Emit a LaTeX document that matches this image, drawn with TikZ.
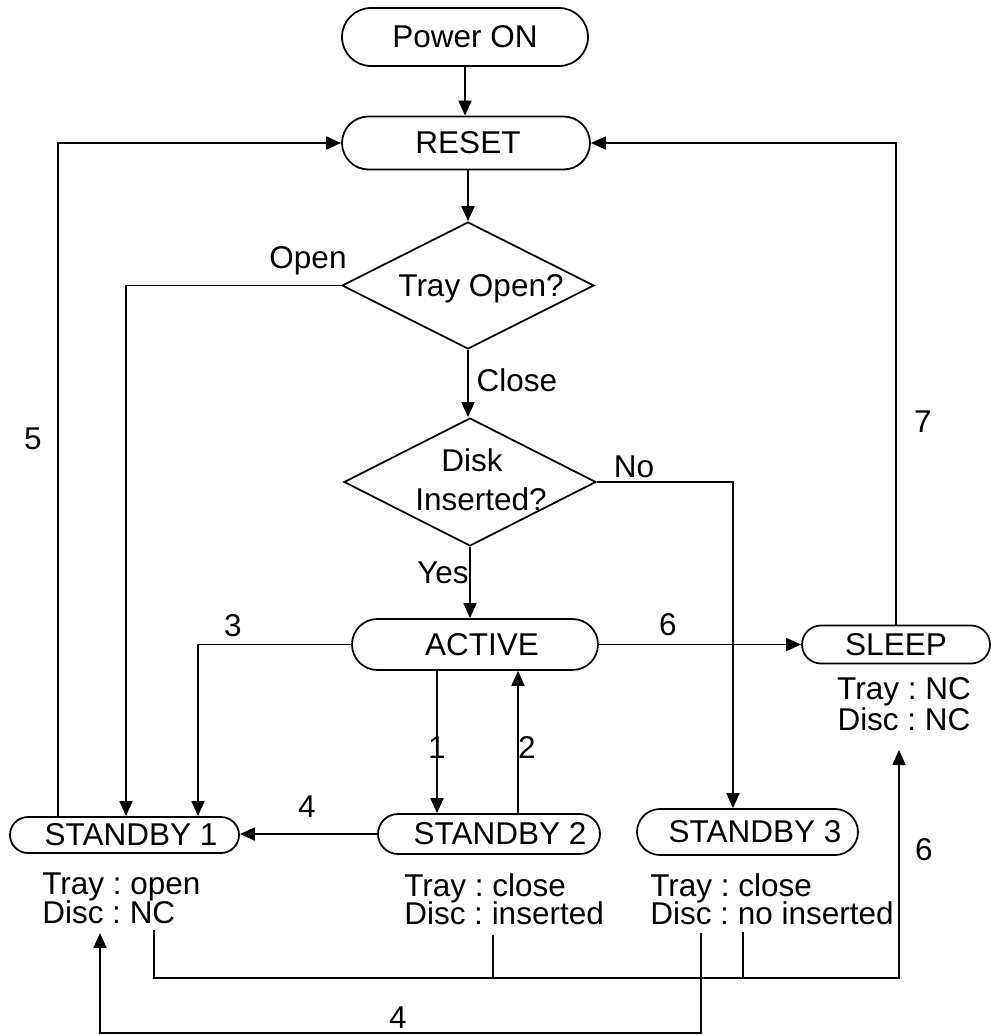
\documentclass[tikz,border=0pt]{standalone}
\usepackage{fontspec}
\setmainfont{Liberation Sans}
\usetikzlibrary{arrows.meta,shapes.geometric,shapes.misc}
\newcommand{\pxu}{0.025cm}
\newcommand{\tightlines}{\lineskiplimit=-100pt\relax}
\frenchspacing
\begin{document}
\begin{tikzpicture}[x=0.025cm,y=-0.025cm,
  font=\fontsize{22.4}{26}\selectfont\frenchspacing,
  every node/.style={inner sep=0pt},
  line/.style={line width=1.25pt},
  arr/.style={line width=1.25pt,-{Triangle[length=15*\pxu,width=13*\pxu]}},
  term/.style={rounded rectangle, draw, line width=1.25pt},
  dec/.style={diamond, draw, line width=1.25pt},
  lbl/.style={anchor=base},
  info/.style={align=left, anchor=north west,
    font=\fontsize{22.4}{20.3}\selectfont\frenchspacing\tightlines},
  infoc/.style={align=center, anchor=north,
    font=\fontsize{22.4}{22}\selectfont\frenchspacing\tightlines},
]
\useasboundingbox (0,0) rectangle (991,1035);

% terminals / states
\node[term, minimum width=246*\pxu, minimum height=58*\pxu] (pwr) at (465,37) {Power ON};
\node[term, minimum width=248*\pxu, minimum height=53*\pxu] (reset) at (466,143) {\hspace*{0.1cm}RESET};
\node[term, minimum width=246*\pxu, minimum height=51*\pxu] (active) at (475,644.5) {\hspace*{0.35cm}ACTIVE};
\node[term, minimum width=188*\pxu, minimum height=38*\pxu] (sleep) at (896,644.5) {SLEEP};
\node[term, minimum width=229*\pxu, minimum height=36*\pxu] (sb1) at (124.5,835) {\hspace*{0.325cm}STANDBY 1};
\node[term, minimum width=222*\pxu, minimum height=40*\pxu] (sb2) at (489,834) {\hspace*{0.55cm}STANDBY 2};
\node[term, minimum width=221*\pxu, minimum height=46*\pxu] (sb3) at (747.5,832) {\hspace*{0.375cm}STANDBY 3};

% decisions
\node[dec, minimum width=252*\pxu, minimum height=127*\pxu] (tray) at (468,285.5) {};
\node[lbl] (trayt) at (481,296) {Tray Open?};
\node[dec, minimum width=252*\pxu, minimum height=128*\pxu] (disk) at (470,482) {};
\node[lbl] (diskt1) at (472,471) {Disk};
\node[lbl] (diskt2) at (481,510) {Inserted?};

% state info
\node[info] (i1) at (42,873) {Tray : open\\Disc : NC};
\node[info] (i2) at (404,873) {Tray : close\\Disc : inserted};
\node[info] (i3) at (650,873) {Tray : close\\Disc : no inserted};
\node[infoc] (is) at (904,677) {Tray : NC\\Disc : NC};

% helper x positions
\coordinate (xa) at (126,0);
\coordinate (xno) at (733,0);
\coordinate (x3) at (198,0);
\coordinate (x1) at (437,0);
\coordinate (x2) at (518,0);
\coordinate (x5) at (58,0);

% connectors
\draw[arr] (pwr.south) -- (pwr.south |- reset.north);
\draw[arr] (reset.south -| tray.north) -- (tray.north);
\draw[arr] (tray.south) -- (tray.south |- disk.north);
\draw[arr] (tray.west) -| (sb1.north -| xa);
\draw[arr] (disk.east) -| (sb3.north -| xno);
\draw[arr] (disk.south) -- (disk.south |- active.north);
\draw[arr] (active.west) -| (sb1.north -| x3);
\draw[arr] (active.east) -- (sleep.west);
\draw[arr] (active.south -| x1) -- (sb2.north -| x1);
\draw[arr] (sb2.north -| x2) -- (active.south -| x2);
\draw[arr] (sb2.west) -- (sb2.west -| sb1.east);
\draw[arr] (sb1.north -| x5) |- (reset.west);
\draw[arr] (sleep.north) |- (reset.east);

% bottom connectors
\coordinate (b6s) at (154,930);
\coordinate (b6c) at (899,978);
\coordinate (b6e) at (899,750);
\coordinate (t1a) at (493,935);
\coordinate (t1b) at (493,978);
\coordinate (t2a) at (743,932);
\coordinate (t2b) at (743,978);
\coordinate (b4s) at (701,933);
\coordinate (b4c) at (100,1033);
\coordinate (b4e) at (100,933);
\draw[arr] (b6s) |- (b6c) -- (b6e);
\draw[line] (t1a) -- (t1b);
\draw[line] (t2a) -- (t2b);
\draw[arr] (b4s) |- (b4c) -- (b4e);

% labels
\node[lbl] (lopen) at (308,268) {Open};
\node[lbl] (lclose) at (517,391) {Close};
\node[lbl] (lno) at (634,477) {No};
\node[lbl] (lyes) at (443,583) {Yes};
\node[lbl] (l3) at (233,636) {3};
\node[lbl] (l6a) at (668,635) {6};
\node[lbl] (l1) at (437,758) {1};
\node[lbl] (l2) at (527,758) {2};
\node[lbl] (l4a) at (307,817) {4};
\node[lbl] (l5) at (33,449) {5};
\node[lbl] (l7) at (923,432) {7};
\node[lbl] (l6b) at (924,860) {6};
\node[lbl] (l4b) at (398,1028) {4};
\end{tikzpicture}
\end{document}
